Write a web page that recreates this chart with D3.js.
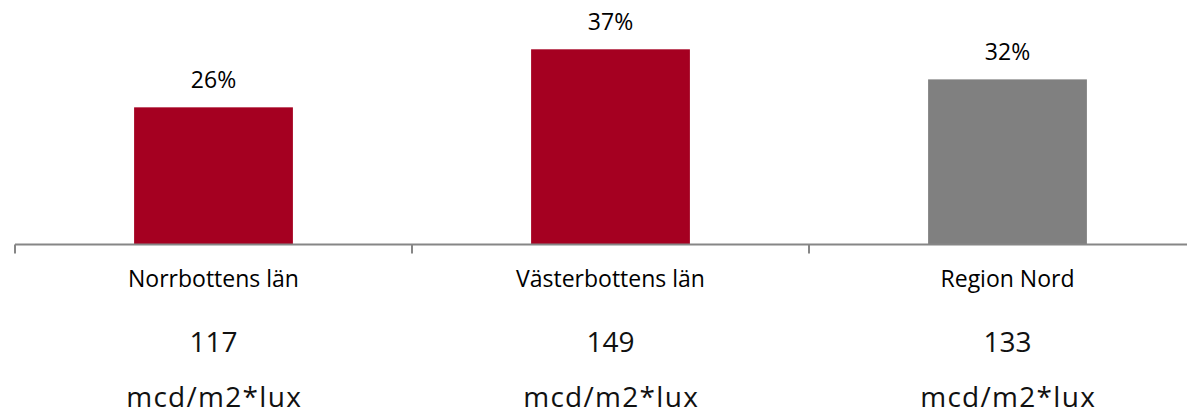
<!DOCTYPE html>
<html>
<head>
<meta charset="utf-8">
<script src="https://cdn.jsdelivr.net/npm/d3@7"></script>
<style>
  body { margin: 0; background: #fff; }
  svg { display: block; }
  .lbl { font-family: "Open Sans", sans-serif; font-size: 23px; fill: #000; }
  .sub { font-family: "Open Sans", sans-serif; font-size: 28px; fill: #111; }
  .unit { letter-spacing: 1.3px; }
</style>
</head>
<body>
<script>
var categories = ["Norrbottens län", "Västerbottens län", "Region Nord"];
var values = [0.26, 0.37, 0.313];
var valueLabels = ["26%", "37%", "32%"];
var luminance = ["117", "149", "133"];
var unit = "mcd/m2*lux";
var colors = ["#A50021", "#A50021", "#808080"];

var width = 1187, height = 414;
var axisY = 244.5;

var svg = d3.select("body").append("svg")
	.attr("width", width)
	.attr("height", height);

var x = d3.scaleBand()
	.domain(categories)
	.range([15, 15 + 397 * 3])
	.paddingInner(0.6)
	.paddingOuter(0.3);

// 0..37% spans 195px
var y = d3.scaleLinear()
	.domain([0, 0.37])
	.range([axisY, 49.3]);

svg.selectAll("rect.bar")
	.data(values)
	.enter().append("rect")
	.attr("class", "bar")
	.attr("x", function (d, i) { return x(categories[i]); })
	.attr("y", function (d) { return y(d); })
	.attr("width", x.bandwidth())
	.attr("height", function (d) { return axisY - y(d); })
	.attr("fill", function (d, i) { return colors[i]; });

svg.selectAll("text.val")
	.data(values)
	.enter().append("text")
	.attr("class", "lbl")
	.attr("text-anchor", "middle")
	.attr("x", function (d, i) { return x(categories[i]) + x.bandwidth() / 2; })
	.attr("y", function (d) { return y(d) - 19; })
	.text(function (d, i) { return valueLabels[i]; });

// category axis: line plus ticks between bands
var ax = svg.append("g");
ax.append("line")
	.attr("x1", 15).attr("x2", width)
	.attr("y1", axisY).attr("y2", axisY)
	.attr("stroke", "#868686")
	.attr("stroke-width", 2);

var tickXs = categories.map(function (c) { return x(c) - x.step() * x.paddingOuter(); });
ax.selectAll("line.tick")
	.data(tickXs)
	.enter().append("line")
	.attr("x1", function (d) { return d; })
	.attr("x2", function (d) { return d; })
	.attr("y1", axisY)
	.attr("y2", axisY + 9)
	.attr("stroke", "#868686")
	.attr("stroke-width", 2);

var cx = function (c) { return x(c) + x.bandwidth() / 2; };

svg.selectAll("text.cat")
	.data(categories)
	.enter().append("text")
	.attr("class", "lbl")
	.attr("text-anchor", "middle")
	.attr("x", cx)
	.attr("y", 287)
	.text(function (d) { return d; });

svg.selectAll("text.num")
	.data(categories)
	.enter().append("text")
	.attr("class", "sub")
	.attr("text-anchor", "middle")
	.attr("x", cx)
	.attr("y", 352)
	.text(function (d, i) { return luminance[i]; });

svg.selectAll("text.unit")
	.data(categories)
	.enter().append("text")
	.attr("class", "sub unit")
	.attr("text-anchor", "middle")
	.attr("x", function (c) { return cx(c) + 0.65; })
	.attr("y", 407)
	.text(unit);
</script>
</body>
</html>
